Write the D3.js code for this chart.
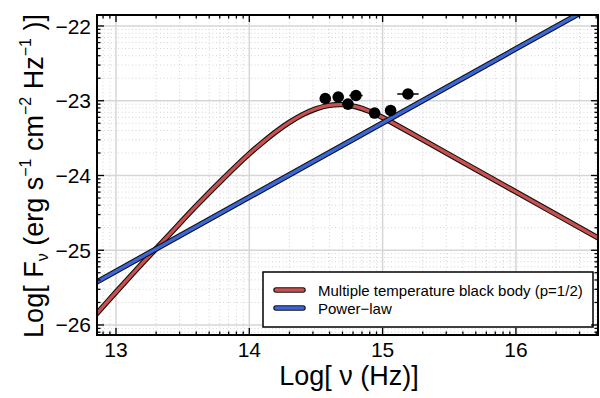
<!DOCTYPE html>
<html>
<head>
<meta charset="utf-8">
<script src="https://cdn.jsdelivr.net/npm/d3@7"></script>
<style>
  body { margin: 0; background: #fff; }
  svg { font-family: "Liberation Sans", Arial, Helvetica, sans-serif; }
</style>
</head>
<body>
<div id="chart"></div>
<script>
// Observed flux points (log nu, log F_nu) with error bars
const obsNu   = [14.57, 14.667, 14.74, 14.80, 14.94, 15.06, 15.19];
const obsFlux = [-22.97, -22.95, -23.045, -22.93, -23.165, -23.13, -22.91];
const obsNuErr   = [0.03, 0.03, 0.03, 0.05, 0.03, 0.03, 0.08];
const obsFluxErr = [0.06, 0.05, 0.06, 0.05, 0.05, 0.05, 0.06];

// Multiple temperature black body curve
const bbNu   = [12.85, 13.0, 13.2, 13.4, 13.6, 13.8, 14.0, 14.1, 14.2, 14.3, 14.4, 14.5, 14.6, 14.7, 14.8, 14.9, 15.0, 15.1, 15.3, 15.6, 16.0, 16.63];
const bbFlux = [-25.86, -25.56, -25.17, -24.79, -24.41, -24.05, -23.71, -23.557, -23.415, -23.29, -23.186, -23.108, -23.062, -23.052, -23.08, -23.141, -23.225, -23.321, -23.52, -23.82, -24.22, -24.85];

// Power-law line endpoints
const plNu   = [12.85, 16.62];
const plFlux = [-25.43, -21.69];

const xTicks = [13, 14, 15, 16];
const yTicks = [-26, -25, -24, -23, -22];
const minorSteps = [2, 3, 4, 5, 6, 7, 8, 9];

const legendLabels = ["Multiple temperature black body (p=1/2)", "Power\u2212law"];
const lineColors = ["#c9504e", "#3b66d8"];

const W = 600, H = 398;
const margin = { top: 15, right: 2, bottom: 63, left: 97 };
const width = W - margin.left - margin.right,
      height = H - margin.top - margin.bottom;

const svg = d3.select("#chart").append("svg")
    .attr("width", W)
    .attr("height", H);

const g = svg.append("g")
    .attr("transform", `translate(${margin.left},${margin.top})`);

const x = d3.scaleLinear().domain([12.8575, 16.6157]).range([0, width]);
const y = d3.scaleLinear().domain([-26.134, -21.853]).range([height, 0]);

// minor positions (log spaced inside each decade)
const xMinor = [];
d3.range(12, 17).forEach(d => minorSteps.forEach(k => {
    const v = d + Math.log10(k);
    if (v > x.domain()[0] && v < x.domain()[1]) xMinor.push(v);
}));
const yMinor = [];
d3.range(-27, -21).forEach(d => minorSteps.forEach(k => {
    const v = d + Math.log10(k);
    if (v > y.domain()[0] && v < y.domain()[1]) yMinor.push(v);
}));

g.append("defs").append("clipPath").attr("id", "clip")
  .append("rect").attr("width", width).attr("height", height);

// Grid
const grid = g.append("g");
grid.selectAll(".gxm").data(xMinor).enter().append("line")
    .attr("x1", d => x(d)).attr("x2", d => x(d))
    .attr("y1", 0).attr("y2", height)
    .attr("stroke", "#d4d4d4").attr("stroke-width", 1).attr("stroke-dasharray", "1,2.5");
grid.selectAll(".gym").data(yMinor).enter().append("line")
    .attr("y1", d => y(d)).attr("y2", d => y(d))
    .attr("x1", 0).attr("x2", width)
    .attr("stroke", "#d4d4d4").attr("stroke-width", 1).attr("stroke-dasharray", "1,2.5");
grid.selectAll(".gx").data(xTicks).enter().append("line")
    .attr("x1", d => x(d)).attr("x2", d => x(d))
    .attr("y1", 0).attr("y2", height)
    .attr("stroke", "#d6d6d6").attr("stroke-width", 1.5);
grid.selectAll(".gy").data(yTicks).enter().append("line")
    .attr("y1", d => y(d)).attr("y2", d => y(d))
    .attr("x1", 0).attr("x2", width)
    .attr("stroke", "#d6d6d6").attr("stroke-width", 1.5);

// Curves
const plot = g.append("g").attr("clip-path", "url(#clip)");

function drawCurve(xs, ys, color, curve) {
    const pts = xs.map((v, i) => [v, ys[i]]);
    const line = d3.line().x(d => x(d[0])).y(d => y(d[1])).curve(curve);
    plot.append("path").datum(pts)
        .attr("fill", "none").attr("stroke", "#111").attr("stroke-width", 5.5)
        .attr("d", line);
    plot.append("path").datum(pts)
        .attr("fill", "none").attr("stroke", color).attr("stroke-width", 3.3)
        .attr("d", line);
}
drawCurve(bbNu, bbFlux, lineColors[0], d3.curveCatmullRom);
drawCurve(plNu, plFlux, lineColors[1], d3.curveLinear);

// Data points
const pts = obsNu.map((v, i) => ({ nu: v, f: obsFlux[i], ex: obsNuErr[i], ey: obsFluxErr[i] }));
const pg = plot.append("g");
pg.selectAll(".ex").data(pts).enter().append("line")
    .attr("x1", d => x(d.nu - d.ex)).attr("x2", d => x(d.nu + d.ex))
    .attr("y1", d => y(d.f)).attr("y2", d => y(d.f))
    .attr("stroke", "#000").attr("stroke-width", 1.5);
pg.selectAll(".ey").data(pts).enter().append("line")
    .attr("x1", d => x(d.nu)).attr("x2", d => x(d.nu))
    .attr("y1", d => y(d.f - d.ey)).attr("y2", d => y(d.f + d.ey))
    .attr("stroke", "#000").attr("stroke-width", 1.5);
pg.selectAll("circle").data(pts).enter().append("circle")
    .attr("cx", d => x(d.nu)).attr("cy", d => y(d.f))
    .attr("r", 5.8).attr("fill", "#000");

// Legend
const lg = g.append("g").attr("transform", `translate(${263 - margin.left},${272 - margin.top})`);
lg.append("rect").attr("width", 330).attr("height", 55)
    .attr("fill", "#fff").attr("stroke", "#000").attr("stroke-width", 1.5);
legendLabels.forEach((lab, i) => {
    const yy = 18 + i * 18;
    lg.append("line").attr("x1", 13).attr("x2", 40).attr("y1", yy).attr("y2", yy)
        .attr("stroke", "#111").attr("stroke-width", 5.5).attr("stroke-linecap", "round");
    lg.append("line").attr("x1", 13).attr("x2", 40).attr("y1", yy).attr("y2", yy)
        .attr("stroke", lineColors[i]).attr("stroke-width", 3.3).attr("stroke-linecap", "round");
    lg.append("text").attr("x", 55).attr("y", yy + 5.5)
        .attr("font-size", 15).attr("fill", "#000").text(lab);
});

// Ticks (inward, on all four sides)
const tk = g.append("g").attr("stroke", "#000").attr("stroke-width", 1.3);
function ticksX(vals, len) {
    vals.forEach(v => {
        tk.append("line").attr("x1", x(v)).attr("x2", x(v)).attr("y1", height).attr("y2", height - len);
        tk.append("line").attr("x1", x(v)).attr("x2", x(v)).attr("y1", 0).attr("y2", len);
    });
}
function ticksY(vals, len) {
    vals.forEach(v => {
        tk.append("line").attr("y1", y(v)).attr("y2", y(v)).attr("x1", 0).attr("x2", len);
        tk.append("line").attr("y1", y(v)).attr("y2", y(v)).attr("x1", width).attr("x2", width - len);
    });
}
ticksX(xTicks, 7); ticksX(xMinor, 3.5);
ticksY(yTicks, 7); ticksY(yMinor, 3.5);

// Frame
g.append("rect").attr("width", width).attr("height", height)
    .attr("fill", "none").attr("stroke", "#000").attr("stroke-width", 2);

// Tick labels
g.selectAll(".xl").data(xTicks).enter().append("text")
    .attr("x", d => x(d)).attr("y", height + 22)
    .attr("text-anchor", "middle").attr("font-size", 21).text(d => d);
g.selectAll(".yl").data(yTicks).enter().append("text")
    .attr("x", -6).attr("y", d => y(d) + 7.5)
    .attr("text-anchor", "end").attr("font-size", 21)
    .text(d => d < 0 ? "\u2212" + Math.abs(d) : d);

// Axis titles
svg.append("text").attr("x", 349).attr("y", 385)
    .attr("text-anchor", "middle").attr("font-size", 27)
    .text("Log[ \u03bd (Hz)]");

const yt = svg.append("text")
    .attr("transform", "translate(43,176) rotate(-90)")
    .attr("text-anchor", "middle").attr("font-size", 27);
yt.append("tspan").text("Log[ F");
yt.append("tspan").attr("font-size", 16).attr("dy", 5).text("\u03bd");
yt.append("tspan").attr("dy", -5).text(" (erg s");
yt.append("tspan").attr("font-size", 16).attr("dy", -12).text("\u22121");
yt.append("tspan").attr("dy", 12).text(" cm");
yt.append("tspan").attr("font-size", 16).attr("dy", -12).text("\u22122");
yt.append("tspan").attr("dy", 12).text(" Hz");
yt.append("tspan").attr("font-size", 16).attr("dy", -12).text("\u22121");
yt.append("tspan").attr("dy", 12).text(" )]");
</script>
</body>
</html>
